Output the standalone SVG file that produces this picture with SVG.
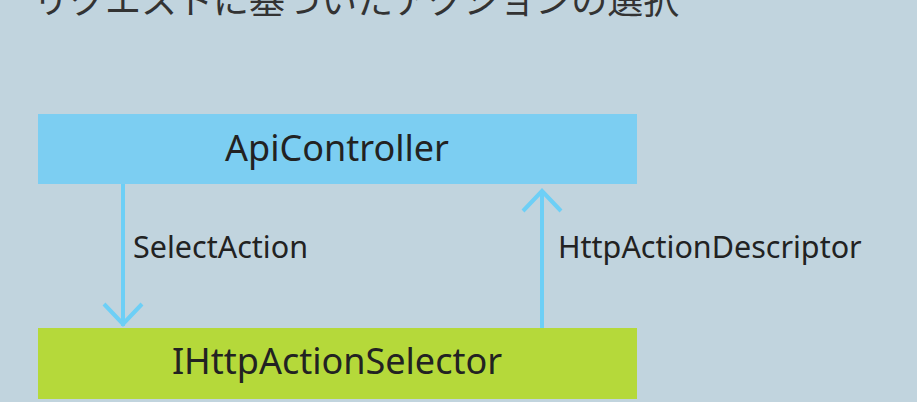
<svg xmlns="http://www.w3.org/2000/svg" width="917" height="402" viewBox="0 0 917 402">
  <style>
    .lbl { font-family: "Noto Sans", "Open Sans", sans-serif; fill: #222222; }
    .node-text { font-size: 36px; text-anchor: middle; }
    .edge-text { font-size: 30.5px; }
    .title { font-family: "Noto Sans CJK JP", sans-serif; font-size: 36px; fill: #333333; }
    .conn { stroke: #6dcff6; stroke-width: 4; fill: none; }
  </style>
  <rect width="917" height="402" fill="#c1d4de"/>
  <text class="title" x="33" y="14">リクエストに基づいたアクションの選択</text>

  <g id="api-controller">
    <rect x="38" y="114" width="599" height="70" fill="#7ccef2"/>
    <text class="lbl node-text" x="337" y="161">ApiController</text>
  </g>

  <g id="action-selector">
    <rect x="38" y="328" width="599" height="71" fill="#b5d93a"/>
    <text class="lbl node-text" x="337" y="374">IHttpActionSelector</text>
  </g>

  <g id="connectors">
    <path class="conn" d="M123 184 V326"/>
    <path class="conn" d="M104 304 L123 324 L142 304"/>
    <path class="conn" d="M542 328 V190"/>
    <path class="conn" d="M523 211 L542 191 L561 211"/>
    <text class="lbl edge-text" x="133" y="258">SelectAction</text>
    <text class="lbl edge-text" x="558" y="258">HttpActionDescriptor</text>
  </g>
</svg>
